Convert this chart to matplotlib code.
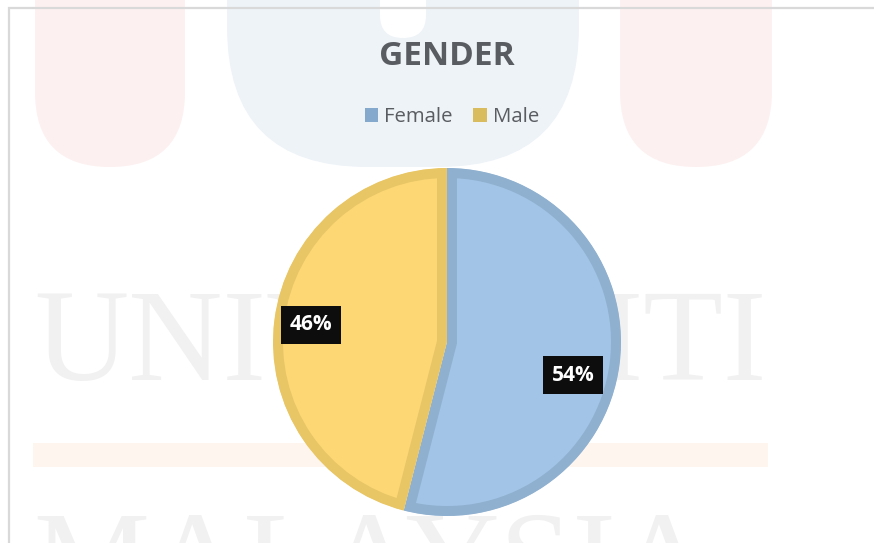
"""
Gender split pie chart (Excel-style, on a faint university watermark page).
"""
import numpy as np
import matplotlib
matplotlib.use("Agg")
import matplotlib.pyplot as plt
from matplotlib.patches import FancyBboxPatch, Rectangle, Patch
from matplotlib.lines import Line2D

# ── Data ──────────────────────────────────────────────────────────────────────
categories = ["Female", "Male"]
shares = [54, 46]
pct_labels = ["54%", "46%"]

FILL_COLORS = ["#A2C4E6", "#FDD774"]
EDGE_COLORS = ["#90B0CF", "#E8C666"]
LEGEND_COLORS = ["#84A9CC", "#D8BC5E"]

TITLE = "GENDER"
WATERMARK_TOP = "UNIVERSITI"
WATERMARK_BOTTOM = "MALAYSIA"

W, H = 874, 543
FONT = "Open Sans"


def fx(x):
    return x / W


def fy(y):
    return 1 - y / H


fig = plt.figure(figsize=(W / 100, H / 100), dpi=100)
fig.patch.set_facecolor("white")

# ── Watermark background (pixel coordinates) ─────────────────────────────────
ax_bg = fig.add_axes([0, 0, 1, 1], zorder=0)
ax_bg.set_xlim(0, W)
ax_bg.set_ylim(H, 0)
ax_bg.axis("off")

pink = "#FDF0F0"
ax_bg.add_patch(FancyBboxPatch((35, -250), 150, 417,
                               boxstyle="round,pad=0,rounding_size=75",
                               fc=pink, ec="none"))
ax_bg.add_patch(FancyBboxPatch((620, -250), 152, 417,
                               boxstyle="round,pad=0,rounding_size=76",
                               fc=pink, ec="none"))
ax_bg.add_patch(FancyBboxPatch((227, -250), 352, 417,
                               boxstyle="round,pad=0,rounding_size=140",
                               fc="#EEF3F8", ec="none"))
ax_bg.add_patch(FancyBboxPatch((380, -100), 46, 138,
                               boxstyle="round,pad=0,rounding_size=23",
                               fc="white", ec="none"))
ax_bg.add_patch(Rectangle((33, 443), 735, 24, fc="#FEF5EE", ec="none"))
ax_bg.text(400, 380, WATERMARK_TOP, fontsize=94, family="Liberation Serif",
           color="#F1F1F1", ha="center", va="baseline")
ax_bg.text(33, 602, WATERMARK_BOTTOM, fontsize=94, family="Liberation Serif",
           color="#F1F1F1", ha="left", va="baseline", clip_on=True)

# chart area frame (only top and left edges are in view)
ax_bg.add_line(Line2D([9, 9, W + 5], [H + 5, 8, 8], color="#D9D9D9",
                      linewidth=1.6, solid_joinstyle="miter"))

# ── Pie ───────────────────────────────────────────────────────────────────────
cx, cy, r = 447, 342, 174
ax = fig.add_axes([fx(cx - r), fy(cy + r), 2 * r / W, 2 * r / H], zorder=2)
wedges, _ = ax.pie(shares, colors=FILL_COLORS, startangle=90, counterclock=False,
                   radius=1, wedgeprops=dict(linewidth=14.4))
ax.set_xlim(-1, 1)
ax.set_ylim(-1, 1)
ax.set_aspect("equal")
ax.axis("off")
for w, ec in zip(wedges, EDGE_COLORS):
    w.set_edgecolor(ec)
    # keep the thick border inside each slice
    w.set_clip_on(True)
    w.set_clip_path(w.get_path(), w.get_transform())

# percentage labels in black boxes
label_r = [0.75, 0.79]
label_shift = [-7.5, 0.0]
for w, txt, lr, sh in zip(wedges, pct_labels, label_r, label_shift):
    mid = np.deg2rad((w.theta1 + w.theta2) / 2 + sh)
    ax.text(lr * np.cos(mid), lr * np.sin(mid), txt, family=FONT,
            fontsize=15, fontweight="bold", color="white",
            ha="center", va="center",
            bbox=dict(boxstyle="square,pad=0.42", fc="#0D0D0D", ec="none"))

# ── Title & legend ────────────────────────────────────────────────────────────
fig.text(fx(447), fy(65), TITLE, family=FONT, fontsize=24, fontweight="bold",
         color="#595C60", ha="center", va="baseline", zorder=3)

handles = [Patch(facecolor=c, edgecolor="none") for c in LEGEND_COLORS]
leg = fig.legend(handles, categories, loc="center", ncol=2,
                 bbox_to_anchor=(fx(452), fy(117)), frameon=False,
                 prop={"family": FONT, "size": 14.7},
                 handlelength=0.65, handleheight=0.65,
                 handletextpad=0.3, columnspacing=1.0)
for t in leg.get_texts():
    t.set_color("#595C60")

fig.savefig("out.png", dpi=100, facecolor=fig.get_facecolor())
plt.close(fig)
